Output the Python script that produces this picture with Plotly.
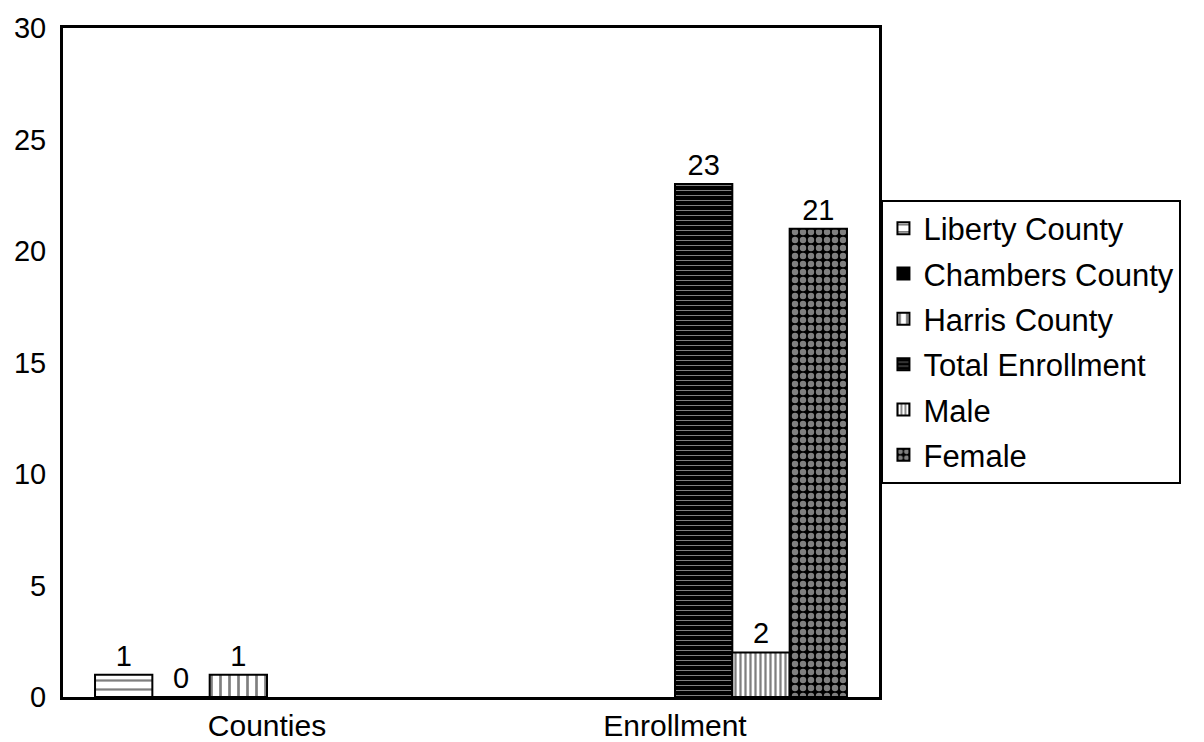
import plotly.graph_objects as go

categories = ["Counties", "Enrollment"]
series_names = ["Liberty County", "Chambers County", "Harris County",
                "Total Enrollment", "Male", "Female"]
liberty = [1, None]
chambers = [0, None]
harris = [1, None]
total_enrollment = [None, 23]
male = [None, 2]
female = [None, 21]
y_ticks = [0, 5, 10, 15, 20, 25, 30]

values = [liberty, chambers, harris, total_enrollment, male, female]
patterns = [
    dict(shape="-", fgcolor="black", bgcolor="white", size=9, solidity=0.25),
    dict(shape="", fgcolor="black", bgcolor="black"),
    dict(shape="|", fgcolor="black", bgcolor="white", size=9, solidity=0.3),
    dict(shape="-", fgcolor="white", bgcolor="black", size=5, solidity=0.2),
    dict(shape="|", fgcolor="black", bgcolor="white", size=5, solidity=0.45),
    dict(shape=".", fgcolor="white", bgcolor="black", size=8, solidity=0.5),
]
colors = ["white", "black", "white", "black", "white", "black"]

FONT = "Arial, Liberation Sans, sans-serif"

fig = go.Figure()
for i, (name, vals, pat, col) in enumerate(zip(series_names, values, patterns, colors)):
    fig.add_trace(go.Bar(
        name=name, x=categories, y=vals, legendgroup=f"g{i}",
        marker=dict(color=col, pattern=pat, line=dict(color="black", width=2)),
        text=[("" if v is None else str(v)) for v in vals],
        textposition="outside",
        textfont=dict(size=29, color="black", family=FONT),
        cliponaxis=False,
    ))

fig.update_layout(
    width=1196, height=734,
    barmode="group", bargap=0.157, bargroupgap=0,
    plot_bgcolor="white", paper_bgcolor="white",
    margin=dict(l=55, r=325, t=20, b=45, autoexpand=False),
    font=dict(family=FONT, size=29, color="black"),
    showlegend=True,
    legend=dict(
        x=1.003, y=0.7435, xanchor="left", yanchor="top",
        bordercolor="black", borderwidth=2,
        font=dict(size=31, family=FONT, color="black"),
        itemwidth=30, tracegroupgap=2, traceorder="grouped",
    ),
    uniformtext=dict(minsize=20, mode="show"),
)
fig.update_yaxes(
    range=[0, 30], tickvals=y_ticks, showgrid=False, zeroline=False,
    showline=True, linecolor="black", linewidth=3, mirror=True,
    ticks="", ticklen=0, ticklabelstandoff=8, tickfont=dict(size=29),
    automargin=False,
)
fig.update_xaxes(
    showgrid=False, showline=True, linecolor="black", linewidth=3,
    mirror=True, ticks="", ticklen=0, tickfont=dict(size=30), automargin=False,
)

fig.write_html("out.html")
